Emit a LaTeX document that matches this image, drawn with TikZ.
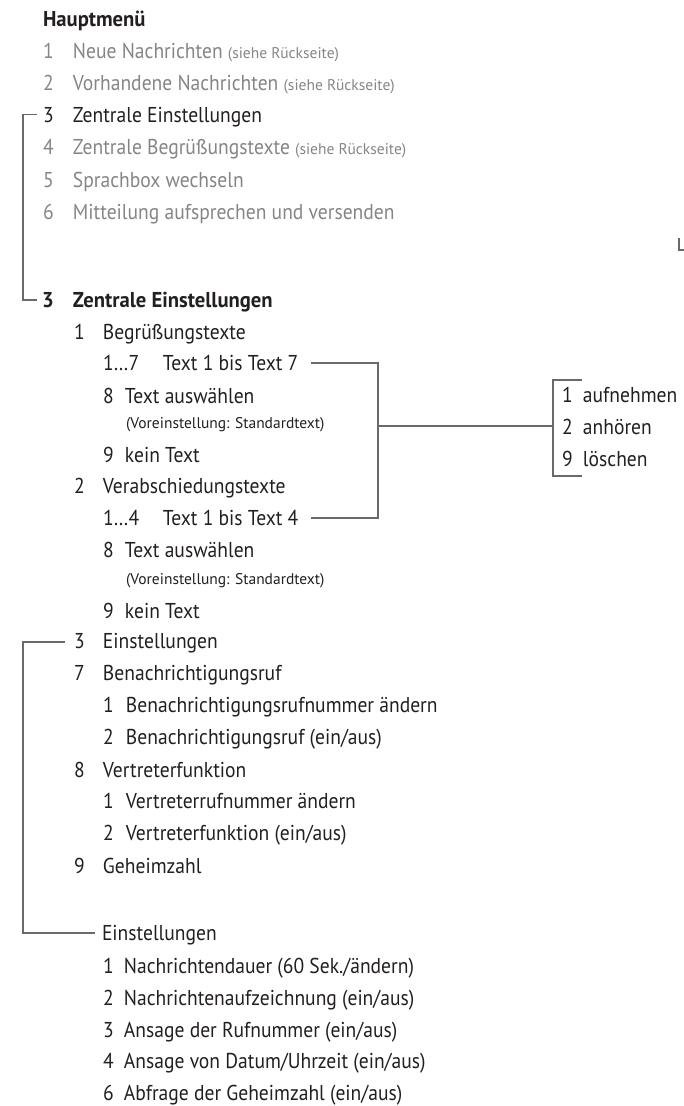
\documentclass[tikz,border=0pt]{standalone}
\usepackage{fontspec}
\setmainfont{PT Sans}[FakeStretch=0.91]
\newfontfamily\headfont{PT Sans}[FakeStretch=0.96]
\newfontfamily\notefont{PT Sans}[FakeStretch=1.0]
\usepackage{tikz}
\usetikzlibrary{positioning}
\usetikzlibrary{calc}
\usepackage{xcolor}
\definecolor{ink}{HTML}{231F20}
\definecolor{greytext}{HTML}{858585}
\definecolor{linegrey}{HTML}{6A6A6A}
\newcommand{\nrbox}[2]{\makebox[#1][l]{#2}}
\newcommand{\notesize}{\notefont\fontsize{15.5}{18}\selectfont}
\tikzset{
	x=1pt, y=-1pt,
	every node/.style={anchor=base west, inner sep=0pt, outer sep=0pt},
	entry/.style={font=\fontsize{21.5}{25}\selectfont, text=ink},
	greyentry/.style={entry, text=greytext},
	headentry/.style={entry, font=\headfont\bfseries\fontsize{21.5}{25}\selectfont},
	note/.style={font=\notesize, text=ink},
	link/.style={draw=linegrey, line width=1.1pt}
}

\begin{document}
\begin{tikzpicture}
	\useasboundingbox (0,0) rectangle (684,1106);

	% Hauptmenue
	\node (haupt) [headentry] at (43,26) {Hauptmenü};
	\node (hm1) [greyentry] at (43,58.2) {\nrbox{30pt}{1}Neue Nachrichten {\notesize(siehe Rückseite)}};
	\node (hm2) [greyentry] at (43,90.4) {\nrbox{30pt}{2}Vorhandene Nachrichten {\notesize(siehe Rückseite)}};
	\node (hm3) [entry] at (43,122.6) {\nrbox{30pt}{3}Zentrale Einstellungen};
	\node (hm4) [greyentry] at (43,154.8) {\nrbox{30pt}{4}Zentrale Begrüßungstexte {\notesize(siehe Rückseite)}};
	\node (hm5) [greyentry] at (43,187) {\nrbox{30pt}{5}Sprachbox wechseln};
	\node (hm6) [greyentry] at (43,219.2) {\nrbox{30pt}{6}Mitteilung aufsprechen und versenden};

	% Zentrale Einstellungen
	\node (ze) [headentry] at (42,307) {\nrbox{31pt}{3}Zentrale Einstellungen};
	\node (begr) [entry] at (74,339) {\nrbox{29pt}{1}Begrüßungstexte};
	\node (bt17) [entry] at (103,370) {\nrbox{60pt}{1\ldots7}Text 1 bis Text 7};
	\node (bt8) [entry] at (103,403) {\nrbox{22pt}{8}Text auswählen};
	\node (bt8n) [note] at (126,428) {(Voreinstellung: Standardtext)};
	\node (bt9) [entry] at (103,462) {\nrbox{22pt}{9}kein Text};
	\node (verab) [entry] at (74,493) {\nrbox{29pt}{2}Verabschiedungstexte};
	\node (vt14) [entry] at (103,525) {\nrbox{60pt}{1\ldots4}Text 1 bis Text 4};
	\node (vt8) [entry] at (103,557) {\nrbox{22pt}{8}Text auswählen};
	\node (vt8n) [note] at (126,584) {(Voreinstellung: Standardtext)};
	\node (vt9) [entry] at (103,618) {\nrbox{22pt}{9}kein Text};

	% Einstellungen
	\node (einst) [entry] at (74,648) {\nrbox{29pt}{3}Einstellungen};
	\node (ruf) [entry] at (74,680) {\nrbox{29pt}{7}Benachrichtigungsruf};
	\node (ruf1) [entry] at (103,712) {\nrbox{23pt}{1}Benachrichtigungsrufnummer ändern};
	\node (ruf2) [entry] at (103,744) {\nrbox{23pt}{2}Benachrichtigungsruf (ein/aus)};
	\node (vertr) [entry] at (74,777) {\nrbox{29pt}{8}Vertreterfunktion};
	\node (vertr1) [entry] at (103,808) {\nrbox{23pt}{1}Vertreterrufnummer ändern};
	\node (vertr2) [entry] at (103,840) {\nrbox{23pt}{2}Vertreterfunktion (ein/aus)};
	\node (geheim) [entry] at (74,873) {\nrbox{29pt}{9}Geheimzahl};

	\node (einst2) [entry] at (102,940) {Einstellungen};
	\node (na1) [entry] at (103,973) {\nrbox{21pt}{1}Nachrichtendauer (60 Sek./ändern)};
	\node (na2) [entry] at (103,1005) {\nrbox{21pt}{2}Nachrichtenaufzeichnung (ein/aus)};
	\node (na3) [entry] at (103,1037) {\nrbox{21pt}{3}Ansage der Rufnummer (ein/aus)};
	\node (na4) [entry] at (103,1068) {\nrbox{21pt}{4}Ansage von Datum/Uhrzeit (ein/aus)};
	\node (na6) [entry] at (103,1100) {\nrbox{21pt}{6}Abfrage der Geheimzahl (ein/aus)};

	% Aufnahme-Menue
	\node (auf) [entry] at (562,402) {\nrbox{21pt}{1}aufnehmen};
	\node (anh) [entry] at (562,434) {\nrbox{21pt}{2}anhören};
	\node (loe) [entry] at (562,466) {\nrbox{21pt}{9}löschen};

	\coordinate (fork) at (378,426);
	\coordinate (brx) at ([xshift=-9pt]anh.base west);

	\path[link] ([shift={(-6,-8)}]hm3.base west) -- ++(-14,0) |- ([shift={(-5,-7)}]ze.base west);
	\path[link] ([shift={(13,-7)}]bt17.base east) -| (fork) |- ([shift={(13,-7)}]vt14.base east);
	\path[link] (fork) -- (fork -| brx);
	\path[link] ([shift={(20,-22)}]auf.base west) -| ([shift={(-9,10)}]loe.base west) -- ++(29,0);
	\path[link] ([shift={(-9,-6)}]einst.base west) -- ++(-42,0) |- ([shift={(-7,-7)}]einst2.base west);
	\path[link] (679,238) |- (684,250);
\end{tikzpicture}
\end{document}
